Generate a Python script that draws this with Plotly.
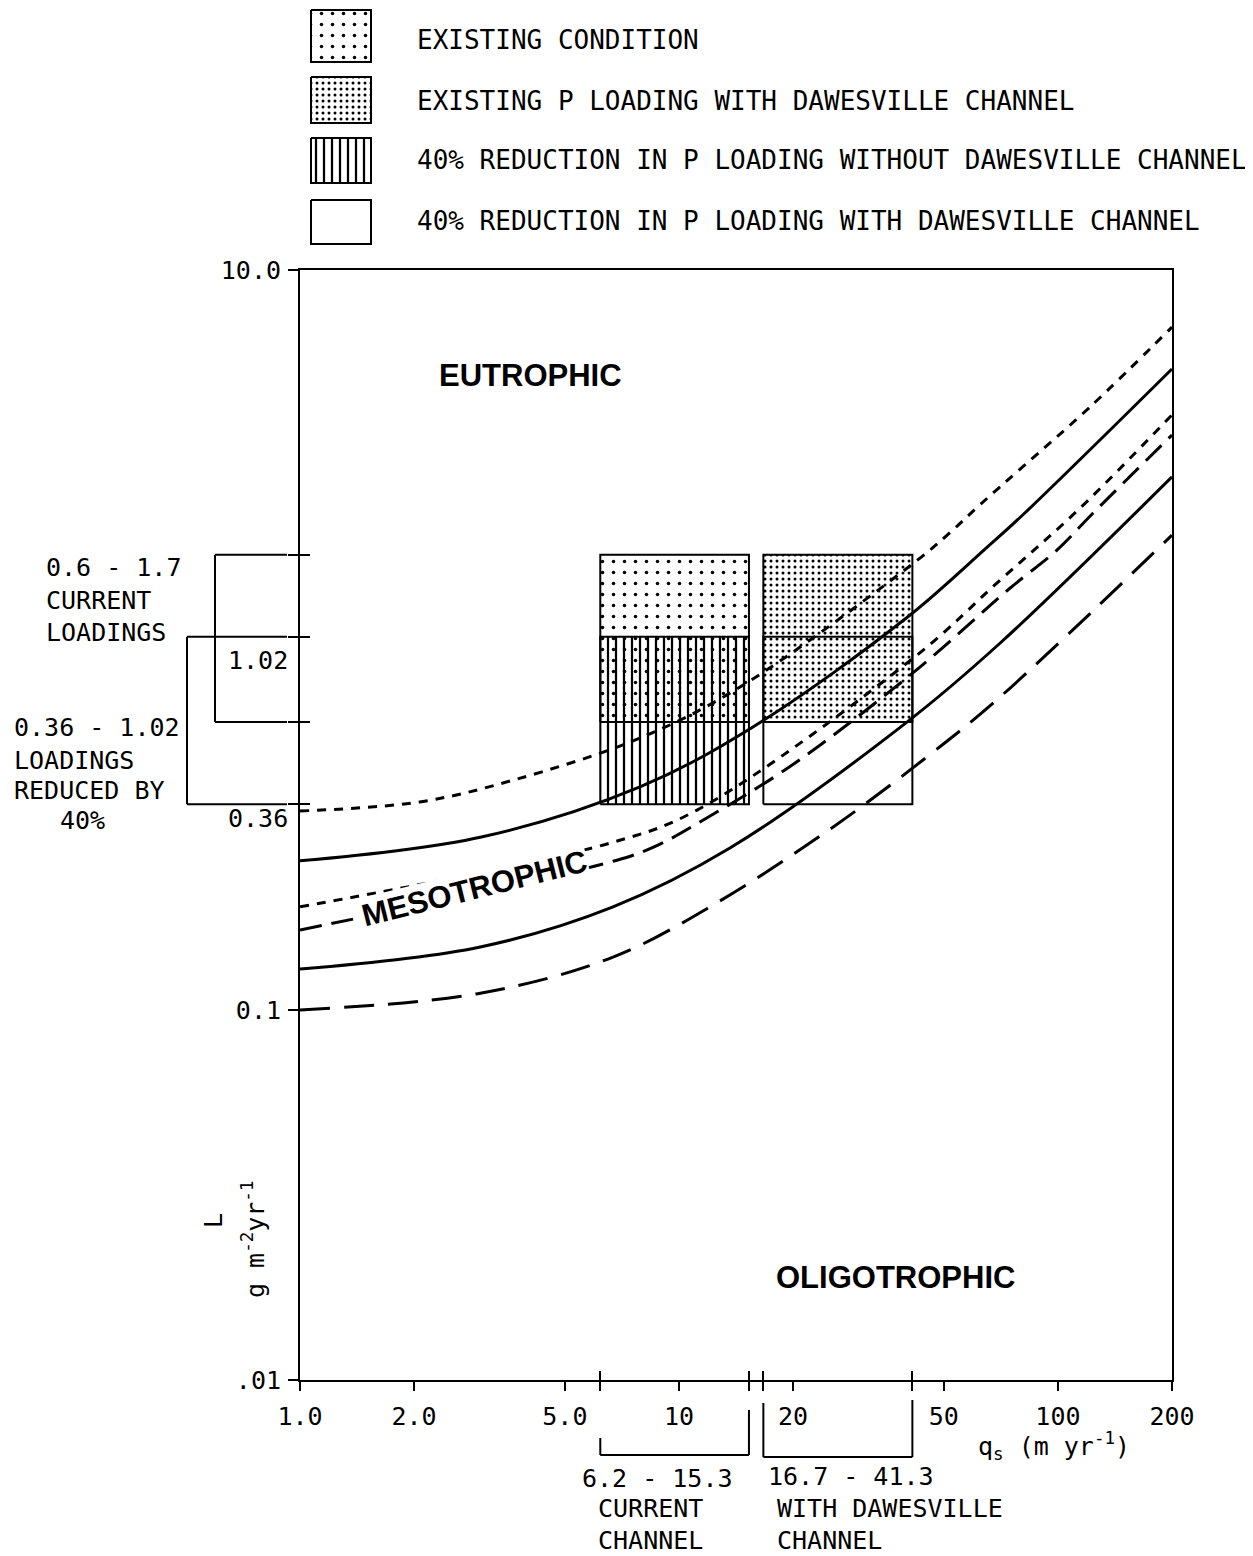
import math
import plotly.graph_objects as go

# page body adds an 8px margin: build the figure in page coordinates shifted by OFF
OFF = 8
W, H = 1253 - OFF, 1556 - OFF

# ---------------- data ----------------
# surface overflow rate qs (m yr-1) vs permissible P loading L (g m-2 yr-1)
qs_short_dash_upper = [1.0, 2.07, 3.65, 7.89, 14.49, 42.46, 51.88, 62.26, 80.85, 121.4, 200]
L_short_dash_upper = [0.345, 0.365, 0.418, 0.543, 0.746, 1.64, 1.95, 2.32, 2.94, 4.26, 7.01]

qs_solid_upper = [1.0, 2.99, 7.89, 15.68, 39.96, 64.97, 80.85, 200]
L_solid_upper = [0.253, 0.293, 0.401, 0.582, 1.15, 1.78, 2.18, 5.40]

qs_short_dash_lower = [1.0, 6.70, 11.16, 42.46, 70.31, 114.3, 200]
L_short_dash_lower = [0.190, 0.284, 0.347, 0.91, 1.45, 2.27, 4.06]

qs_long_dash_upper = [1.0, 6.86, 8.80, 11.93, 17.70, 23.99, 43.24, 74.71, 99.4, 123.7, 200]
L_long_dash_upper = [0.1645, 0.254, 0.279, 0.332, 0.424, 0.527, 0.845, 1.38, 1.75, 2.20, 3.58]

qs_solid_lower = [1.0, 2.99, 6.70, 13.63, 39.96, 70.31, 200]
L_solid_lower = [0.129, 0.148, 0.190, 0.274, 0.600, 0.98, 2.76]

qs_long_dash_lower = [1.0, 2.99, 6.70, 12.60, 25.48, 45.11, 70.31, 200]
L_long_dash_lower = [0.100, 0.111, 0.139, 0.195, 0.312, 0.483, 0.701, 1.92]

# flushing ranges (qs) and loading ranges (L)
qs_current_channel = [6.2, 15.3]
qs_dawesville_channel = [16.7, 41.3]
L_current = [0.6, 1.7]
L_reduced = [0.36, 1.02]

legend_labels = [
    "EXISTING CONDITION",
    "EXISTING P LOADING WITH DAWESVILLE CHANNEL",
    "40% REDUCTION IN P LOADING WITHOUT DAWESVILLE CHANNEL",
    "40% REDUCTION IN P LOADING WITH DAWESVILLE CHANNEL",
]

x_tick_vals = [1, 2, 5, 10, 20, 50, 100, 200]
x_tick_text = ["1.0", "2.0", "5.0", "10", "20", "50", "100", "200"]
y_tick_vals = [0.01, 0.1, 10]
y_tick_text = [".01", "0.1", "10.0"]

# ---------------- styling ----------------
MONO = "DejaVu Sans Mono"
BOLD = "Liberation Sans, Arial, sans-serif"
BLACK = "black"
CLEAR = "rgba(0,0,0,0)"

pat_sparse = dict(shape=".", size=11, solidity=0.08, fgcolor=BLACK, bgcolor=CLEAR, fillmode="replace")
pat_dense = dict(shape=".", size=6, solidity=0.2, fgcolor=BLACK, bgcolor=CLEAR, fillmode="replace")
pat_vlines = dict(shape="|", size=8, solidity=0.28, fgcolor=BLACK, bgcolor=CLEAR, fillmode="replace")


def px(x):
    return (x - OFF) / W


def py(y):
    return 1 - (y - OFF) / H


XD = [px(300), px(1172)]
YD = [py(1380), py(270)]


def rect(xr, yr):
    return [xr[0], xr[1], xr[1], xr[0], xr[0]], [yr[0], yr[0], yr[1], yr[1], yr[0]]


fig = go.Figure()

# ---------------- boxes ----------------
boxes = [
    (qs_dawesville_channel, L_reduced, None),
    (qs_current_channel, L_reduced, pat_vlines),
    (qs_dawesville_channel, L_current, pat_dense),
    (qs_current_channel, L_current, pat_sparse),
]
for xr, yr, pat in boxes:
    bx, by = rect(xr, yr)
    kw = dict(fillcolor="white") if pat is None else dict(fillcolor=CLEAR, fillpattern=pat)
    fig.add_trace(go.Scatter(x=bx, y=by, mode="lines", fill="toself",
                             line=dict(color=BLACK, width=2), hoverinfo="skip",
                             showlegend=False, **kw))

# ---------------- curves ----------------
curves = [
    (qs_short_dash_upper, L_short_dash_upper, "9px,8px"),
    (qs_solid_upper, L_solid_upper, "solid"),
    (qs_short_dash_lower, L_short_dash_lower, "9px,8px"),
    (qs_long_dash_upper, L_long_dash_upper, "22px,10px"),
    (qs_solid_lower, L_solid_lower, "solid"),
    (qs_long_dash_lower, L_long_dash_lower, "30px,14px"),
]
for q, L, dash in curves:
    fig.add_trace(go.Scatter(x=q, y=L, mode="lines",
                             line=dict(color=BLACK, width=3, dash=dash, shape="spline", smoothing=1),
                             hoverinfo="skip", showlegend=False))

# empty trace to register the overlay (crossing-tick) axes
fig.add_trace(go.Scatter(x=[], y=[], xaxis="x3", yaxis="y3", showlegend=False))

# ---------------- legend swatches (own pixel axes) ----------------
legend_patterns = [pat_sparse, pat_dense, pat_vlines, None]
legend_bands = [(10, 62), (77, 123), (138, 183), (200, 244)]
legend_text_y = [40, 101, 160, 221]
for pat, band in zip(legend_patterns, legend_bands):
    sx, sy = rect([311, 371], band)
    kw = dict(fillcolor="white") if pat is None else dict(fillcolor=CLEAR, fillpattern=pat)
    fig.add_trace(go.Scatter(x=sx, y=sy, mode="lines", fill="toself", xaxis="x2", yaxis="y2",
                             line=dict(color=BLACK, width=2), hoverinfo="skip",
                             showlegend=False, **kw))

# ---------------- annotations ----------------
ann = []


def text(t, x, y, xanchor="left", yanchor="middle", size=25, family=MONO, angle=0, bg=None):
    d = dict(text=t, x=px(x), y=py(y), xref="paper", yref="paper",
             xanchor=xanchor, yanchor=yanchor, showarrow=False, align="left",
             textangle=angle, font=dict(family=family, size=size, color=BLACK))
    if bg:
        d.update(bgcolor=bg, borderpad=0)
    ann.append(d)


for lab, ty in zip(legend_labels, legend_text_y):
    text(lab, 415, ty, size=26)

# region names
text("<b>EUTROPHIC</b>", 530, 375, xanchor="center", size=31, family=BOLD)
text("<b>MESOTROPHIC</b>", 474, 888, xanchor="center", size=31, family=BOLD, angle=-14, bg="white")
text("<b>OLIGOTROPHIC</b>", 895, 1277, xanchor="center", size=31, family=BOLD)

# axis titles
text("L", 213, 1221, xanchor="center", size=25, angle=-90)
text("g m<sup>-2</sup>yr<sup>-1</sup>", 253, 1240, xanchor="center", size=25, angle=-90)
text("q<sub>s</sub> (m yr<sup>-1</sup>)", 1054, 1446, xanchor="center", size=25)

# loading-range labels (left)
text("0.6 - 1.7", 44, 567)
text("CURRENT", 44, 600)
text("LOADINGS", 44, 632)
text("0.36 - 1.02", 12, 728)
text("LOADINGS", 12, 760)
text("REDUCED BY", 12, 790)
text("40%", 58, 820)
for val, label, shift in [(L_reduced[1], "1.02", -24), (L_reduced[0], "0.36", -14)]:
    ann.append(dict(text=label, x=px(290), y=math.log10(val), xref="paper", yref="y",
                    xanchor="right", yanchor="middle", yshift=shift, showarrow=False,
                    font=dict(family=MONO, size=25, color=BLACK)))

# flushing-range labels (bottom)
text("6.2 - 15.3", 580, 1478)
text("CURRENT", 596, 1508)
text("CHANNEL", 596, 1540)
text("16.7 - 41.3", 766, 1476)
text("WITH DAWESVILLE", 775, 1508)
text("CHANNEL", 775, 1540)

# ---------------- bracket shapes ----------------
shapes = []


def seg(x0, y0, x1, y1, xref, yref):
    shapes.append(dict(type="line", x0=x0, y0=y0, x1=x1, y1=y1, xref=xref, yref=yref,
                       line=dict(color=BLACK, width=2)))


# left brackets (y in data units)
for yr, xv in [(L_current, 215), (L_reduced, 187)]:
    seg(px(xv), yr[0], px(xv), yr[1], "paper", "y")
    seg(px(xv), yr[0], px(287), yr[0], "paper", "y")
    seg(px(xv), yr[1], px(287), yr[1], "paper", "y")

# bottom brackets (x in data units)
for xr, ytop_l, ytop_r, ybot in [(qs_current_channel, 1438, 1410, 1455),
                                  (qs_dawesville_channel, 1403, 1400, 1457)]:
    seg(xr[0], py(ytop_l), xr[0], py(ybot), "x", "paper")
    seg(xr[1], py(ytop_r), xr[1], py(ybot), "x", "paper")
    seg(xr[0], py(ybot), xr[1], py(ybot), "x", "paper")

# ---------------- axes ----------------
tickfont = dict(family=MONO, size=25, color=BLACK)
x_all = sorted(x_tick_vals + qs_current_channel + qs_dawesville_channel)
x_all_text = [x_tick_text[x_tick_vals.index(v)] if v in x_tick_vals else "" for v in x_all]
y_all = sorted(y_tick_vals + L_current + L_reduced)
y_all_text = [y_tick_text[y_tick_vals.index(v)] if v in y_tick_vals else "" for v in y_all]

xrange = [0, math.log10(200)]
yrange = [-2, 1]

fig.update_layout(
    width=W, height=H,
    margin=dict(l=0, r=0, t=0, b=0, autoexpand=False),
    paper_bgcolor="white", plot_bgcolor="white",
    template="none", showlegend=False,
    annotations=ann, shapes=shapes,
    xaxis=dict(type="log", range=xrange, domain=XD, anchor="y",
               showline=True, linecolor=BLACK, linewidth=2, mirror=True,
               ticks="outside", tickmode="array", tickvals=x_all, ticktext=x_all_text,
               ticklen=9, tickwidth=2, tickcolor=BLACK, tickfont=tickfont,
               ticklabelstandoff=4, showgrid=False, zeroline=False),
    yaxis=dict(type="log", range=yrange, domain=YD, anchor="x",
               showline=True, linecolor=BLACK, linewidth=2, mirror=True,
               ticks="outside", tickmode="array", tickvals=y_all, ticktext=y_all_text,
               ticklen=10, tickwidth=2, tickcolor=BLACK, tickfont=tickfont,
               ticklabelstandoff=2, showgrid=False, zeroline=False),
    xaxis3=dict(type="log", range=xrange, overlaying="x", anchor="y3", side="bottom",
                ticks="inside", tickmode="array",
                tickvals=[1] + qs_current_channel + qs_dawesville_channel,
                ticklen=9, tickwidth=2, tickcolor=BLACK, showticklabels=False,
                showline=False, showgrid=False, zeroline=False),
    yaxis3=dict(type="log", range=yrange, overlaying="y", anchor="x3", side="left",
                ticks="inside", tickmode="array",
                tickvals=[0.01] + L_reduced + L_current,
                ticklen=10, tickwidth=2, tickcolor=BLACK, showticklabels=False,
                showline=False, showgrid=False, zeroline=False),
    xaxis2=dict(domain=[0, 1], range=[OFF, OFF + W], anchor="y2", visible=False, fixedrange=True),
    yaxis2=dict(domain=[py(255), 1], range=[255, OFF], anchor="x2", visible=False, fixedrange=True),
)

fig.write_html("out.html")
